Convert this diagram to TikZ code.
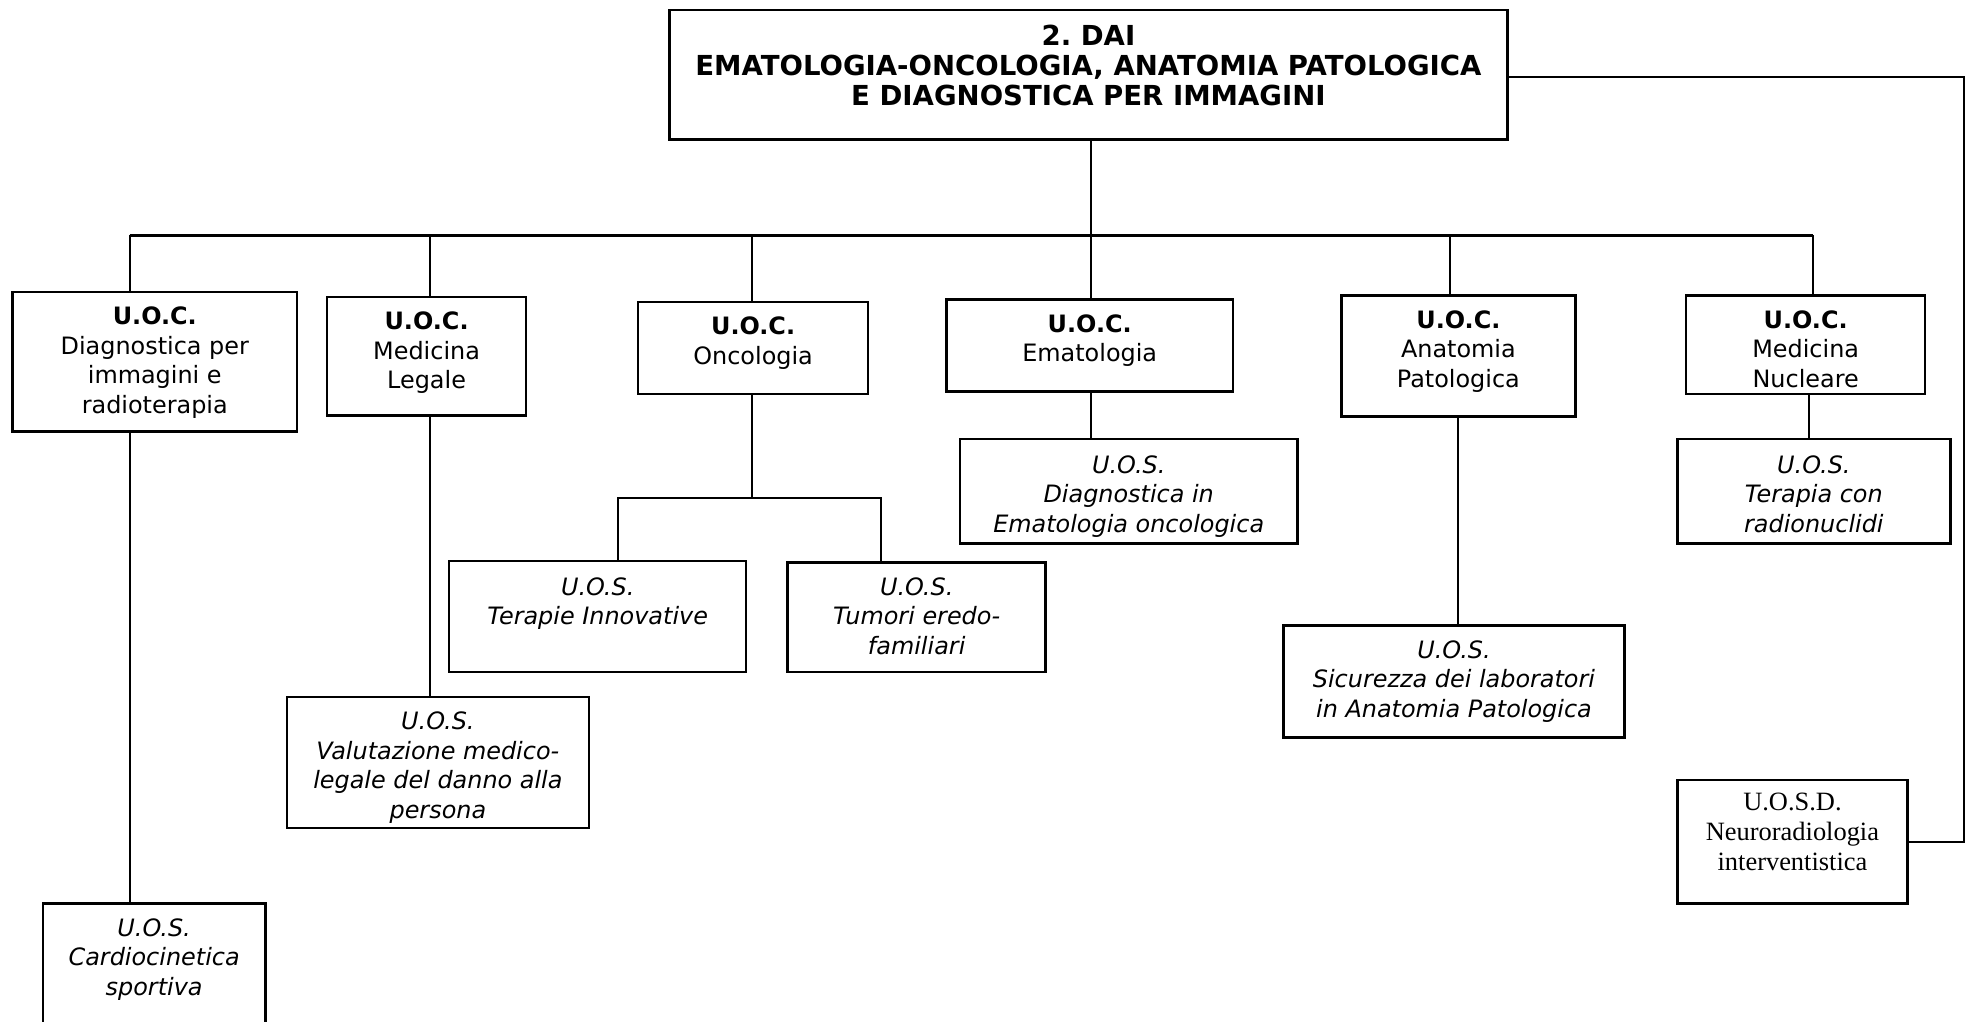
\documentclass[tikz,border=0pt]{standalone}
\usepackage{fontspec}
\setmainfont{DejaVu Sans}
\newfontfamily\serifx{Liberation Serif}
\tikzset{
  box/.style={draw, line width=2pt, inner sep=0pt, anchor=north west},
  conn/.style={line width=1.6pt},
  busline/.style={line width=2pt}
}
\newcommand\rf{\fontsize{19}{23.5}\selectfont}
\newcommand\hf{\fontsize{21.9}{24}\selectfont\bfseries}
% [first baseline]{name}{x1}{y1}{x2}{y2}{text}
\newcommand\ubox[7][26]{%
  \node[box] (#2) at (#3,#4) {\parbox[t][\dimexpr#6pt-#4pt\relax][t]{\dimexpr#5pt-#3pt\relax}{\centering\rule{0pt}{#1pt}#7}};}
\begin{document}
\begin{tikzpicture}[x=1pt,y=-1pt]
\useasboundingbox (0,0) rectangle (1568,812);
% top
\ubox[28]{top}{531}{7}{1197}{110}{\hf 2.\ DAI\\EMATOLOGIA-ONCOLOGIA, ANATOMIA PATOLOGICA\\E DIAGNOSTICA PER IMMAGINI}
% U.O.C. row
\ubox{b1}{9}{231}{235}{342}{\rf\textbf{U.O.C.}\\Diagnostica per\\immagini e\\radioterapia}
\ubox{b2}{259}{235}{417}{329}{\rf\textbf{U.O.C.}\\Medicina\\Legale}
\ubox{b3}{506}{239}{689}{312}{\rf\textbf{U.O.C.}\\Oncologia}
\ubox{b4}{751}{237}{979}{310}{\rf\textbf{U.O.C.}\\Ematologia}
\ubox{b5}{1065}{234}{1251}{330}{\rf\textbf{U.O.C.}\\Anatomia\\Patologica}
\ubox{b6}{1339}{234}{1529}{312}{\rf\textbf{U.O.C.}\\Medicina\\Nucleare}
% U.O.S. boxes
\ubox[27]{s4}{762}{348}{1030}{431}{\rf\itshape U.O.S.\\Diagnostica in\\Ematologia oncologica}
\ubox[27]{s6}{1332}{348}{1549}{431}{\rf\itshape U.O.S.\\Terapia con\\radionuclidi}
\ubox[27]{s3a}{356}{445}{592}{533}{\rf\itshape U.O.S.\\Terapie Innovative}
\ubox{s3b}{625}{446}{830}{533}{\rf\itshape U.O.S.\\Tumori eredo-\\familiari}
\ubox{s5}{1019}{496}{1290}{585}{\rf\itshape U.O.S.\\Sicurezza dei laboratori\\in Anatomia Patologica}
\ubox{s2}{227}{553}{467}{657}{\rf\itshape U.O.S.\\Valutazione medico-\\legale del danno alla\\persona}
\ubox{s1}{33}{717}{210}{830}{\rf\itshape U.O.S.\\Cardiocinetica\\sportiva}
\ubox[24]{sd}{1332}{619}{1515}{717}{\serifx\fontsize{21}{24}\selectfont U.O.S.D.\\Neuroradiologia\\interventistica}
% bus
\coordinate (busL) at (103,187);
\coordinate (d2) at (342,187);
\coordinate (d3) at (598,187);
\coordinate (d4) at (867,187);
\coordinate (d5) at (1152,187);
\coordinate (busR) at (1441,187);
\draw[busline] (busL) -- (busR);
\draw[conn] (top.south -| d4) -- (d4 |- b4.north);
\draw[conn] (busL) -- (busL |- b1.north);
\draw[conn] (d2) -- (d2 |- b2.north);
\draw[conn] (d3) -- (d3 |- b3.north);
\draw[conn] (d5) -- (d5 |- b5.north);
\draw[conn] (busR) -- (busR |- b6.north);
% second level
\draw[conn] (b1.south -| busL) -- (s1.north -| busL);
\draw[conn] (b2.south -| d2) -- (s2.north -| d2);
\coordinate (fL) at (491,396);
\coordinate (fR) at (700,396);
\draw[conn] (b3.south -| d3) -- (d3 |- fL);
\draw[conn] (s3a.north -| fL) -- (fL) -- (fR) -- (fR |- s3b.north);
\draw[conn] (b4.south -| d4) -- (d4 |- s4.north);
\draw[conn] (b5.south) -- (b5.south |- s5.north);
\coordinate (c6) at (1438,0);
\draw[conn] (b6.south -| c6) -- (s6.north -| c6);
% right connector to U.O.S.D.
\coordinate (rc) at (1561,61);
\draw[conn] (top.east |- rc) -- (rc) -- (rc |- sd.east) -- (sd.east);
\end{tikzpicture}
\end{document}
